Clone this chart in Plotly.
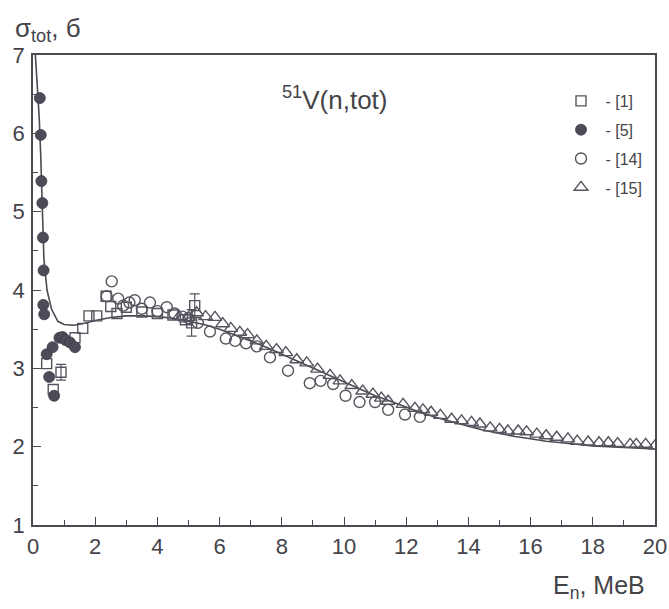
import plotly.graph_objects as go

# ---- data ----
curve_E = [0.03, 0.1, 0.2, 0.25, 0.3, 0.35, 0.45, 0.6, 0.8, 1.0, 1.3, 1.6, 2.0, 2.5, 3.0, 3.5,
           4.0, 4.5, 5.0, 5.5, 6.0, 6.5, 7.0, 7.5, 8.0, 8.5, 9.0, 9.5, 10.0, 10.5, 11.0, 11.5,
           12.0, 12.5, 13.0, 13.5, 14.0, 14.5, 15.0, 15.5, 16.0, 16.5, 17.0, 17.5, 18.0, 18.5,
           19.0, 19.5, 20.0]
curve_s = [7.3, 6.9, 6.2, 5.7, 5.0, 4.4, 4.0, 3.75, 3.6, 3.56, 3.55, 3.57, 3.61, 3.65, 3.67, 3.67,
           3.66, 3.64, 3.6, 3.56, 3.5, 3.43, 3.35, 3.27, 3.18, 3.09, 3.0, 2.91, 2.82, 2.73, 2.65, 2.58,
           2.5, 2.43, 2.37, 2.31, 2.26, 2.21, 2.17, 2.13, 2.1, 2.07, 2.05, 2.03, 2.01, 2.0,
           1.99, 1.98, 1.97]

ref1_E = [0.44, 0.65, 0.9, 1.35, 1.6, 1.8, 2.05, 2.35, 2.5, 2.7, 3.0, 3.5, 4.0, 4.5, 4.9, 5.1, 5.2]
ref1_s = [3.06, 2.73, 2.95, 3.39, 3.51, 3.67, 3.67, 3.92, 3.79, 3.7, 3.78, 3.72, 3.7, 3.68, 3.62, 3.58, 3.8]
ref1_err = [0.0, 0.0, 0.1, 0.0, 0.0, 0.0, 0.0, 0.0, 0.0, 0.0, 0.0, 0.0, 0.0, 0.0, 0.0, 0.17, 0.15]

ref5_E = [0.22, 0.25, 0.27, 0.3, 0.32, 0.34, 0.33, 0.36, 0.44, 0.52, 0.63, 0.68, 0.85, 0.95, 1.05, 1.19, 1.35]
ref5_s = [6.45, 5.98, 5.39, 5.11, 4.67, 4.25, 3.81, 3.69, 3.18, 2.89, 3.27, 2.65, 3.39, 3.4, 3.36, 3.33, 3.27]

ref14_E = [2.37, 2.53, 2.74, 2.9, 3.1, 3.27, 3.5, 3.76, 4.0, 4.3, 4.55, 4.8, 5.0, 5.3, 5.69, 6.2, 6.5,
           6.85, 7.2, 7.62, 8.2, 8.9, 9.25, 9.65, 10.05, 10.5, 11.0, 11.42, 11.96, 12.44]
ref14_s = [3.92, 4.11, 3.89, 3.8, 3.84, 3.87, 3.76, 3.84, 3.73, 3.78, 3.7, 3.66, 3.64, 3.58, 3.47, 3.38, 3.35,
           3.32, 3.28, 3.14, 2.97, 2.81, 2.84, 2.8, 2.65, 2.57, 2.57, 2.47, 2.41, 2.38]

ref15_E = [4.7, 5.0, 5.26, 5.55, 5.85, 6.1, 6.36, 6.65, 6.9, 7.2, 7.5, 7.83, 8.13, 8.48, 8.8, 9.15, 9.55,
           9.87, 10.25, 10.6, 10.93, 11.2, 11.42, 11.9, 12.28, 12.54, 12.8, 13.1, 13.46, 13.78, 14.1, 14.37,
           14.7, 15.0, 15.27, 15.6, 15.87, 16.2, 16.5, 16.84, 17.2, 17.5, 17.85, 18.2, 18.5, 18.8, 19.2,
           19.4, 19.7, 20.0]
ref15_s = [3.66, 3.65, 3.71, 3.66, 3.65, 3.57, 3.51, 3.46, 3.43, 3.35, 3.28, 3.24, 3.2, 3.11, 3.07, 2.99, 2.91,
           2.84, 2.78, 2.71, 2.67, 2.62, 2.58, 2.54, 2.49, 2.47, 2.44, 2.4, 2.35, 2.33, 2.31, 2.29,
           2.24, 2.22, 2.2, 2.2, 2.19, 2.16, 2.14, 2.12, 2.1, 2.07, 2.06, 2.05, 2.05, 2.04, 2.03,
           2.03, 2.03, 2.01]

legend_names = [" - [1]", " - [5]", " - [14]", " - [15]"]
x_ticks = list(range(0, 21, 2))
y_ticks = list(range(1, 8))

# ---- style ----
INK = "#55555f"
LINE = "#4a4a52"
TXT = "#444448"
FONT = "Liberation Sans, Arial, sans-serif"

# plot area in pixels
L, R, T, B = 33, 14, 55, 84
PW, PH = 669 - L - R, 609 - T - B

fig = go.Figure()

fig.add_trace(go.Scatter(x=curve_E, y=curve_s, mode="lines", line=dict(color=LINE, width=1.6),
                         showlegend=False, hoverinfo="skip"))

# error bars for [1]
err_E = [e for e, d in zip(ref1_E, ref1_err) if d > 0]
err_s = [s for s, d in zip(ref1_s, ref1_err) if d > 0]
err_d = [d for d in ref1_err if d > 0]
fig.add_trace(go.Scatter(x=err_E, y=err_s, mode="markers", marker=dict(size=1, opacity=0),
                         error_y=dict(type="data", array=err_d, color=INK, thickness=1.2, width=5),
                         showlegend=False, hoverinfo="skip"))

fig.add_trace(go.Scatter(x=ref1_E, y=ref1_s, mode="markers", name=legend_names[0], legendgroup="a",
                         marker=dict(symbol="square-open", size=10, color=INK, line=dict(width=1.4))))
fig.add_trace(go.Scatter(x=ref5_E, y=ref5_s, mode="markers", name=legend_names[1], legendgroup="b",
                         marker=dict(symbol="circle", size=11, color="#4d4b58",
                                     line=dict(width=0.8, color="#3d3b48"))))
fig.add_trace(go.Scatter(x=ref14_E, y=ref14_s, mode="markers", name=legend_names[2], legendgroup="c",
                         marker=dict(symbol="circle-open", size=11, color=INK, line=dict(width=1.4))))
fig.add_trace(go.Scatter(x=ref15_E, y=ref15_s, mode="markers", name=legend_names[3], legendgroup="d",
                         marker=dict(symbol="triangle-up-open", size=12, color=INK, line=dict(width=1.4))))

axis_common = dict(showgrid=False, zeroline=False, showline=True, linecolor=LINE, linewidth=1.5,
                   mirror=True, ticks="inside", tickcolor=LINE, tickwidth=1.2, ticklen=8,
                   automargin=False, ticklabeloverflow="allow",
                   tickfont=dict(family=FONT, size=22, color=TXT),
                   minor=dict(ticks="inside", ticklen=5, tickcolor=LINE, tickwidth=1.2))

fig.update_xaxes(range=[0, 20], tickvals=x_ticks, minor_dtick=1, ticklabelstandoff=1, **axis_common)
fig.update_yaxes(range=[1, 7], tickvals=y_ticks, minor_dtick=0.5, ticklabelstandoff=2, **axis_common)

fig.add_annotation(x=9.7, y=6.45, xref="x", yref="y", text="<sup>51</sup>V(n,tot)", showarrow=False,
                   font=dict(family=FONT, size=26, color=TXT))

fig.add_annotation(x=(13 - L) / PW, y=(T + PH - 29) / PH, xref="paper", yref="paper",
                   xanchor="left", yanchor="middle",
                   text="σ<sub>tot</sub>, б", showarrow=False,
                   font=dict(family=FONT, size=26, color=TXT))
fig.add_annotation(x=(647 - L) / PW, y=(T + PH - 587) / PH, xref="paper", yref="paper",
                   xanchor="right", yanchor="middle",
                   text="E<sub>n</sub>, MeB", showarrow=False,
                   font=dict(family=FONT, size=25, color=TXT))

fig.update_layout(
    width=669, height=609,
    margin=dict(l=L, r=R, t=T, b=B, autoexpand=False),
    paper_bgcolor="white", plot_bgcolor="white",
    font=dict(family=FONT, color=TXT),
    legend=dict(x=(561 - L) / PW, y=(T + PH - 84) / PH, xanchor="left", yanchor="top",
                bgcolor="rgba(0,0,0,0)",
                font=dict(family=FONT, size=16, color=TXT), tracegroupgap=5,
                itemwidth=30),
)

fig.write_html("out.html", config={"displayModeBar": False},
               post_script="document.body.style.margin='0';document.body.style.overflow='hidden';")
